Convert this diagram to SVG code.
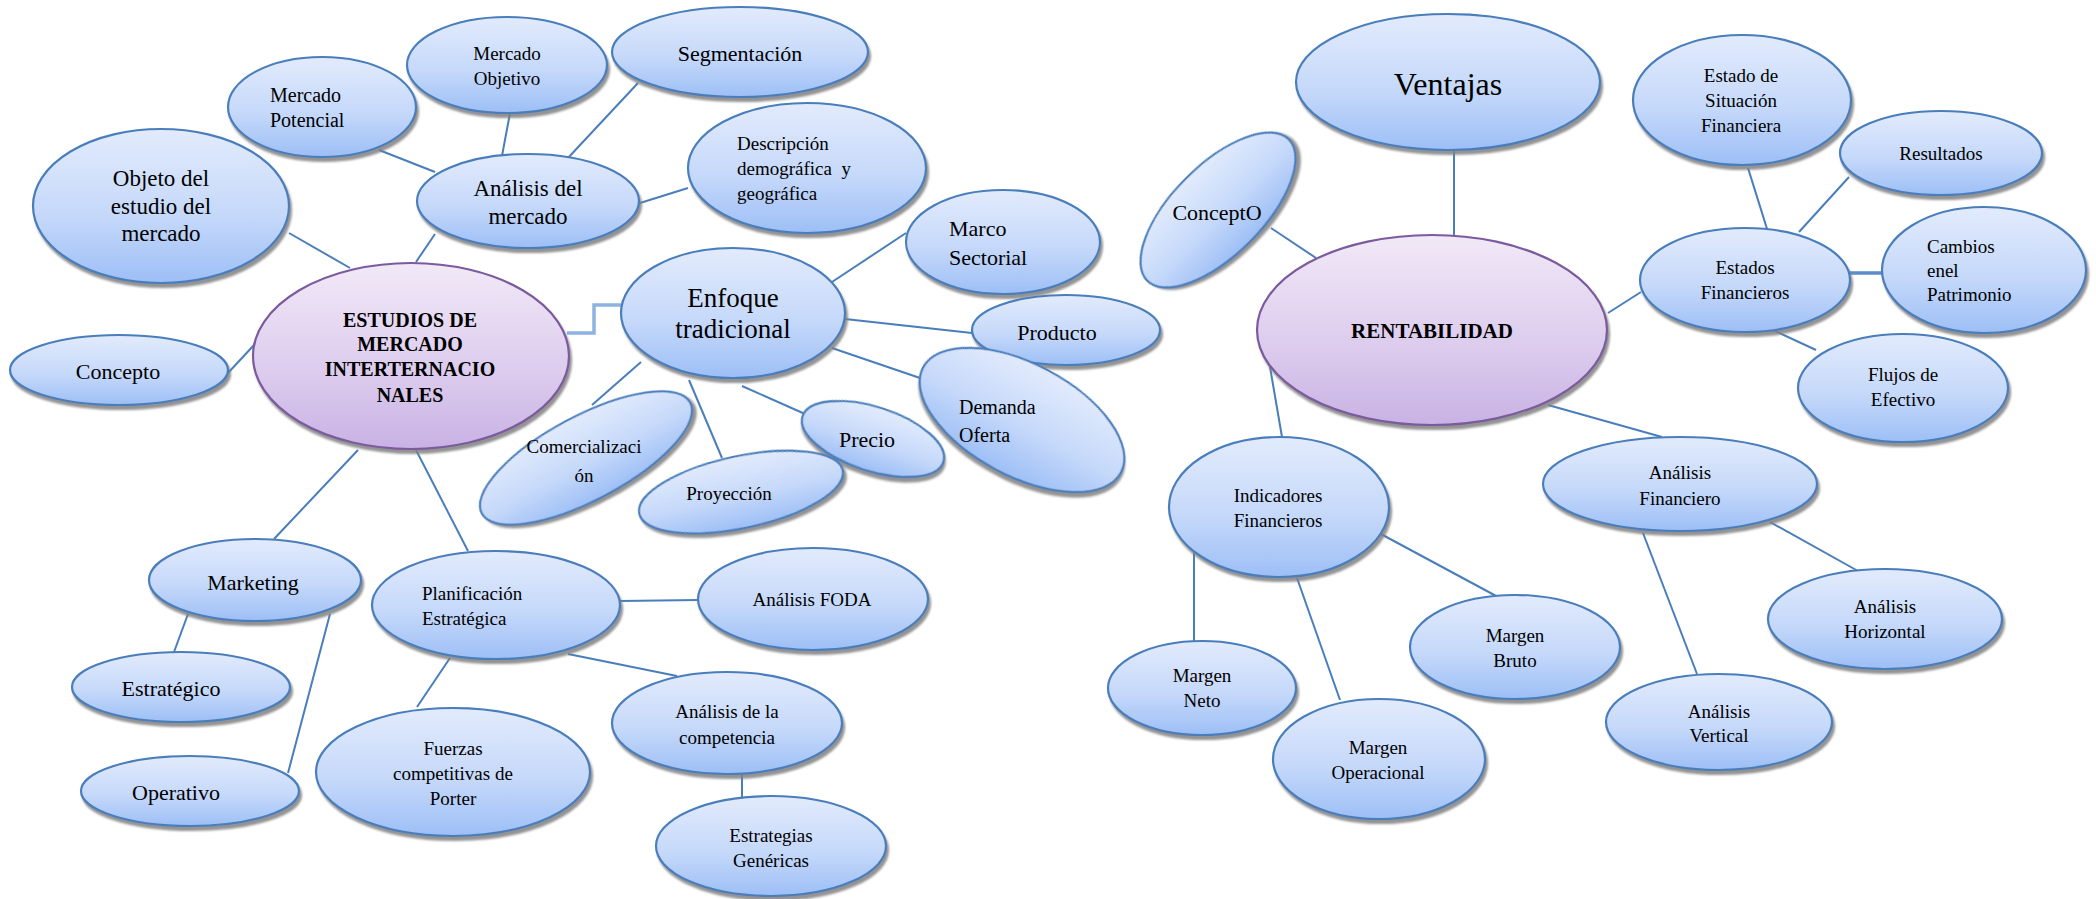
<svg xmlns="http://www.w3.org/2000/svg" width="2096" height="899" viewBox="0 0 2096 899" font-family="'Liberation Serif', 'DejaVu Serif', serif">
<defs>
<linearGradient id="gb" x1="0" y1="0" x2="0" y2="1">
<stop offset="0" stop-color="#e2ebfc"/><stop offset="0.55" stop-color="#c6d9fa"/><stop offset="1" stop-color="#9dbff6"/>
</linearGradient>
<linearGradient id="gp" x1="0" y1="0" x2="0" y2="1">
<stop offset="0" stop-color="#f1e9f7"/><stop offset="0.6" stop-color="#dccbed"/><stop offset="1" stop-color="#c8b2e4"/>
</linearGradient>
<filter id="sh" x="-10%" y="-10%" width="125%" height="130%">
<feDropShadow dx="2" dy="4" stdDeviation="1" flood-color="#808080" flood-opacity="0.85"/>
</filter>
</defs>
<style>
.b{fill:url(#gb);stroke:#4a7ebb;stroke-width:2.2;filter:url(#sh)}
.p{fill:url(#gp);stroke:#7b5a9e;stroke-width:2.2;filter:url(#sh)}
text{font-family:'Liberation Serif','DejaVu Serif',serif;fill:#000}
.m{text-anchor:middle}
.s{text-anchor:start}
.bd{font-weight:bold}
.c line,.c polyline{stroke:#4a7ebb;stroke-width:2;fill:none}
.c .lt{stroke:#8db3e2;stroke-width:3.5}
.c .th{stroke:#5b8ccc;stroke-width:3.5}
</style>
<g class="c" id="connectors">
<line x1="289" y1="233" x2="350" y2="268"/>
<line x1="435" y1="234" x2="416" y2="262"/>
<line x1="379" y1="150" x2="435" y2="172"/>
<line x1="510" y1="113" x2="502" y2="156"/>
<line x1="638" y1="83" x2="567" y2="159"/>
<line x1="688" y1="188" x2="640" y2="203"/>
<line x1="228" y1="373" x2="254" y2="345"/>
<polyline class="lt" points="567,333 594,333 594,305 621,305"/>
<line x1="832" y1="282" x2="906" y2="233"/>
<line x1="845" y1="319" x2="972" y2="333"/>
<line x1="832" y1="348" x2="920" y2="378"/>
<line x1="742" y1="386" x2="805" y2="414"/>
<line x1="689" y1="380" x2="722" y2="458"/>
<line x1="641" y1="362" x2="592" y2="405"/>
<line x1="358" y1="450" x2="274" y2="539"/>
<line x1="416" y1="450" x2="468" y2="551"/>
<line x1="188" y1="614" x2="174" y2="652"/>
<line x1="330" y1="614" x2="288" y2="773"/>
<line x1="620" y1="601" x2="698" y2="600"/>
<line x1="450" y1="658" x2="417" y2="707"/>
<line x1="568" y1="654" x2="677" y2="676"/>
<line x1="742" y1="773" x2="742" y2="797"/>
<line x1="1454" y1="150" x2="1454" y2="235"/>
<line x1="1271" y1="228" x2="1316" y2="258"/>
<line x1="1608" y1="313" x2="1641" y2="292"/>
<line x1="1748" y1="168" x2="1768" y2="232"/>
<line x1="1849" y1="177" x2="1799" y2="232"/>
<line class="th" x1="1849" y1="273" x2="1882" y2="273"/>
<line x1="1773" y1="330" x2="1816" y2="350"/>
<line x1="1548" y1="405" x2="1662" y2="437"/>
<line x1="1270" y1="367" x2="1282" y2="437"/>
<line x1="1194" y1="546" x2="1194" y2="641"/>
<line x1="1297" y1="578" x2="1340" y2="700"/>
<line x1="1379" y1="533" x2="1498" y2="597"/>
<line x1="1643" y1="533" x2="1697" y2="674"/>
<line x1="1770" y1="522" x2="1858" y2="571"/>
</g>
<g id="n-objeto"><ellipse class="b" cx="161" cy="206" rx="128" ry="77"/>
<text class="m" x="161" y="186" font-size="23">Objeto del</text><text class="m" x="161" y="214" font-size="23">estudio del</text><text class="m" x="161" y="241" font-size="23">mercado</text></g>
<g id="n-potencial"><ellipse class="b" cx="322" cy="107" rx="94" ry="50"/>
<text class="s" x="270" y="102" font-size="20">Mercado</text><text class="s" x="270" y="127" font-size="20">Potencial</text></g>
<g id="n-objetivo"><ellipse class="b" cx="507" cy="65" rx="100" ry="48"/>
<text class="m" x="507" y="60" font-size="19">Mercado</text><text class="m" x="507" y="85" font-size="19">Objetivo</text></g>
<g id="n-segmentacion"><ellipse class="b" cx="740" cy="52" rx="128" ry="45"/>
<text class="m" x="740" y="61" font-size="22">Segmentación</text></g>
<g id="n-analisis-mercado"><ellipse class="b" cx="528" cy="201" rx="111" ry="47"/>
<text class="m" x="528" y="196" font-size="23">Análisis del</text><text class="m" x="528" y="224" font-size="23">mercado</text></g>
<g id="n-descripcion"><ellipse class="b" cx="807" cy="168" rx="119" ry="65"/>
<text class="s" x="737" y="150" font-size="19">Descripción</text><text class="s" x="737" y="175" font-size="19" style="white-space:pre">demográfica  y</text><text class="s" x="737" y="200" font-size="19">geográfica</text></g>
<g id="n-concepto"><ellipse class="b" cx="119" cy="370" rx="109" ry="35"/>
<text class="m" x="118" y="379" font-size="22">Concepto</text></g>
<g id="n-estudios"><ellipse class="p" cx="411" cy="356" rx="158" ry="93"/>
<text class="m bd" x="410" y="327" font-size="20">ESTUDIOS DE</text><text class="m bd" x="410" y="351" font-size="20">MERCADO</text><text class="m bd" x="410" y="376" font-size="20">INTERTERNACIO</text><text class="m bd" x="410" y="402" font-size="20">NALES</text></g>
<g id="n-enfoque"><ellipse class="b" cx="733" cy="313" rx="112" ry="65"/>
<text class="m" x="733" y="307" font-size="27">Enfoque</text><text class="m" x="733" y="338" font-size="27">tradicional</text></g>
<g id="n-marco"><ellipse class="b" cx="1003" cy="242" rx="97" ry="52"/>
<text class="s" x="949" y="236" font-size="22">Marco</text><text class="s" x="949" y="265" font-size="22">Sectorial</text></g>
<g id="n-producto"><ellipse class="b" cx="1066" cy="330" rx="94" ry="35"/>
<text class="m" x="1057" y="340" font-size="22">Producto</text></g>
<g id="n-demanda"><ellipse class="b" cx="0" cy="0" rx="112" ry="56" transform="translate(1022,420) rotate(28)"/>
<text class="s" x="959" y="414" font-size="20">Demanda</text><text class="s" x="959" y="442" font-size="20">Oferta</text></g>
<g id="n-precio"><ellipse class="b" cx="0" cy="0" rx="74" ry="32" transform="translate(873,439) rotate(18)"/>
<text class="m" x="867" y="447" font-size="22">Precio</text></g>
<g id="n-comercializacion"><ellipse class="b" cx="0" cy="0" rx="118" ry="42" transform="translate(586,458) rotate(-28)"/>
<text class="m" x="584" y="453" font-size="19">Comercializaci</text><text class="m" x="584" y="482" font-size="19">ón</text></g>
<g id="n-proyeccion"><ellipse class="b" cx="0" cy="0" rx="104" ry="36" transform="translate(741,492) rotate(-12)"/>
<text class="m" x="729" y="500" font-size="19">Proyección</text></g>
<g id="n-marketing"><ellipse class="b" cx="255" cy="580" rx="106" ry="41"/>
<text class="m" x="253" y="590" font-size="22">Marketing</text></g>
<g id="n-planificacion"><ellipse class="b" cx="496" cy="605" rx="124" ry="54"/>
<text class="s" x="422" y="600" font-size="19">Planificación</text><text class="s" x="422" y="625" font-size="19">Estratégica</text></g>
<g id="n-foda"><ellipse class="b" cx="813" cy="599" rx="115" ry="51"/>
<text class="m" x="812" y="606" font-size="19">Análisis FODA</text></g>
<g id="n-estrategico"><ellipse class="b" cx="181" cy="687" rx="109" ry="35"/>
<text class="m" x="171" y="696" font-size="22">Estratégico</text></g>
<g id="n-operativo"><ellipse class="b" cx="190" cy="791" rx="109" ry="35"/>
<text class="m" x="176" y="800" font-size="22">Operativo</text></g>
<g id="n-fuerzas"><ellipse class="b" cx="453" cy="772" rx="137" ry="64"/>
<text class="m" x="453" y="755" font-size="19">Fuerzas</text><text class="m" x="453" y="780" font-size="19">competitivas de</text><text class="m" x="453" y="805" font-size="19">Porter</text></g>
<g id="n-competencia"><ellipse class="b" cx="727" cy="723" rx="115" ry="51"/>
<text class="m" x="727" y="718" font-size="19">Análisis de la</text><text class="m" x="727" y="744" font-size="19">competencia</text></g>
<g id="n-estrategias"><ellipse class="b" cx="771" cy="846" rx="115" ry="50"/>
<text class="m" x="771" y="842" font-size="19">Estrategias</text><text class="m" x="771" y="867" font-size="19">Genéricas</text></g>
<g id="n-ventajas"><ellipse class="b" cx="1448" cy="82" rx="152" ry="68"/>
<text class="m" x="1448" y="95" font-size="32">Ventajas</text></g>
<g id="n-concepto2"><ellipse class="b" cx="0" cy="0" rx="100" ry="45" transform="translate(1218,210) rotate(-45)"/>
<text class="m" x="1217" y="220" font-size="22">ConceptO</text></g>
<g id="n-rentabilidad"><ellipse class="p" cx="1432" cy="330" rx="175" ry="95"/>
<text class="m bd" x="1432" y="338" font-size="21">RENTABILIDAD</text></g>
<g id="n-estado-situacion"><ellipse class="b" cx="1742" cy="100" rx="109" ry="65"/>
<text class="m" x="1741" y="82" font-size="19">Estado de</text><text class="m" x="1741" y="107" font-size="19">Situación</text><text class="m" x="1741" y="132" font-size="19">Financiera</text></g>
<g id="n-resultados"><ellipse class="b" cx="1941" cy="153" rx="101" ry="42"/>
<text class="m" x="1941" y="160" font-size="19">Resultados</text></g>
<g id="n-estados-financieros"><ellipse class="b" cx="1745" cy="280" rx="105" ry="52"/>
<text class="m" x="1745" y="274" font-size="19">Estados</text><text class="m" x="1745" y="299" font-size="19">Financieros</text></g>
<g id="n-cambios"><ellipse class="b" cx="1984" cy="270" rx="102" ry="63"/>
<text class="s" x="1927" y="253" font-size="19">Cambios</text><text class="s" x="1927" y="277" font-size="19">enel</text><text class="s" x="1927" y="301" font-size="19">Patrimonio</text></g>
<g id="n-flujos"><ellipse class="b" cx="1903" cy="388" rx="105" ry="54"/>
<text class="m" x="1903" y="381" font-size="19">Flujos de</text><text class="m" x="1903" y="406" font-size="19">Efectivo</text></g>
<g id="n-indicadores"><ellipse class="b" cx="1279" cy="507" rx="110" ry="70"/>
<text class="m" x="1278" y="502" font-size="19">Indicadores</text><text class="m" x="1278" y="527" font-size="19">Financieros</text></g>
<g id="n-analisis-financiero"><ellipse class="b" cx="1680" cy="484" rx="137" ry="47"/>
<text class="m" x="1680" y="479" font-size="19">Análisis</text><text class="m" x="1680" y="505" font-size="19">Financiero</text></g>
<g id="n-horizontal"><ellipse class="b" cx="1885" cy="619" rx="117" ry="50"/>
<text class="m" x="1885" y="613" font-size="19">Análisis</text><text class="m" x="1885" y="638" font-size="19">Horizontal</text></g>
<g id="n-bruto"><ellipse class="b" cx="1515" cy="647" rx="105" ry="52"/>
<text class="m" x="1515" y="642" font-size="19">Margen</text><text class="m" x="1515" y="667" font-size="19">Bruto</text></g>
<g id="n-neto"><ellipse class="b" cx="1202" cy="688" rx="94" ry="47"/>
<text class="m" x="1202" y="682" font-size="19">Margen</text><text class="m" x="1202" y="707" font-size="19">Neto</text></g>
<g id="n-operacional"><ellipse class="b" cx="1379" cy="759" rx="106" ry="60"/>
<text class="m" x="1378" y="754" font-size="19">Margen</text><text class="m" x="1378" y="779" font-size="19">Operacional</text></g>
<g id="n-vertical"><ellipse class="b" cx="1719" cy="722" rx="113" ry="48"/>
<text class="m" x="1719" y="718" font-size="19">Análisis</text><text class="m" x="1719" y="742" font-size="19">Vertical</text></g>
</svg>
